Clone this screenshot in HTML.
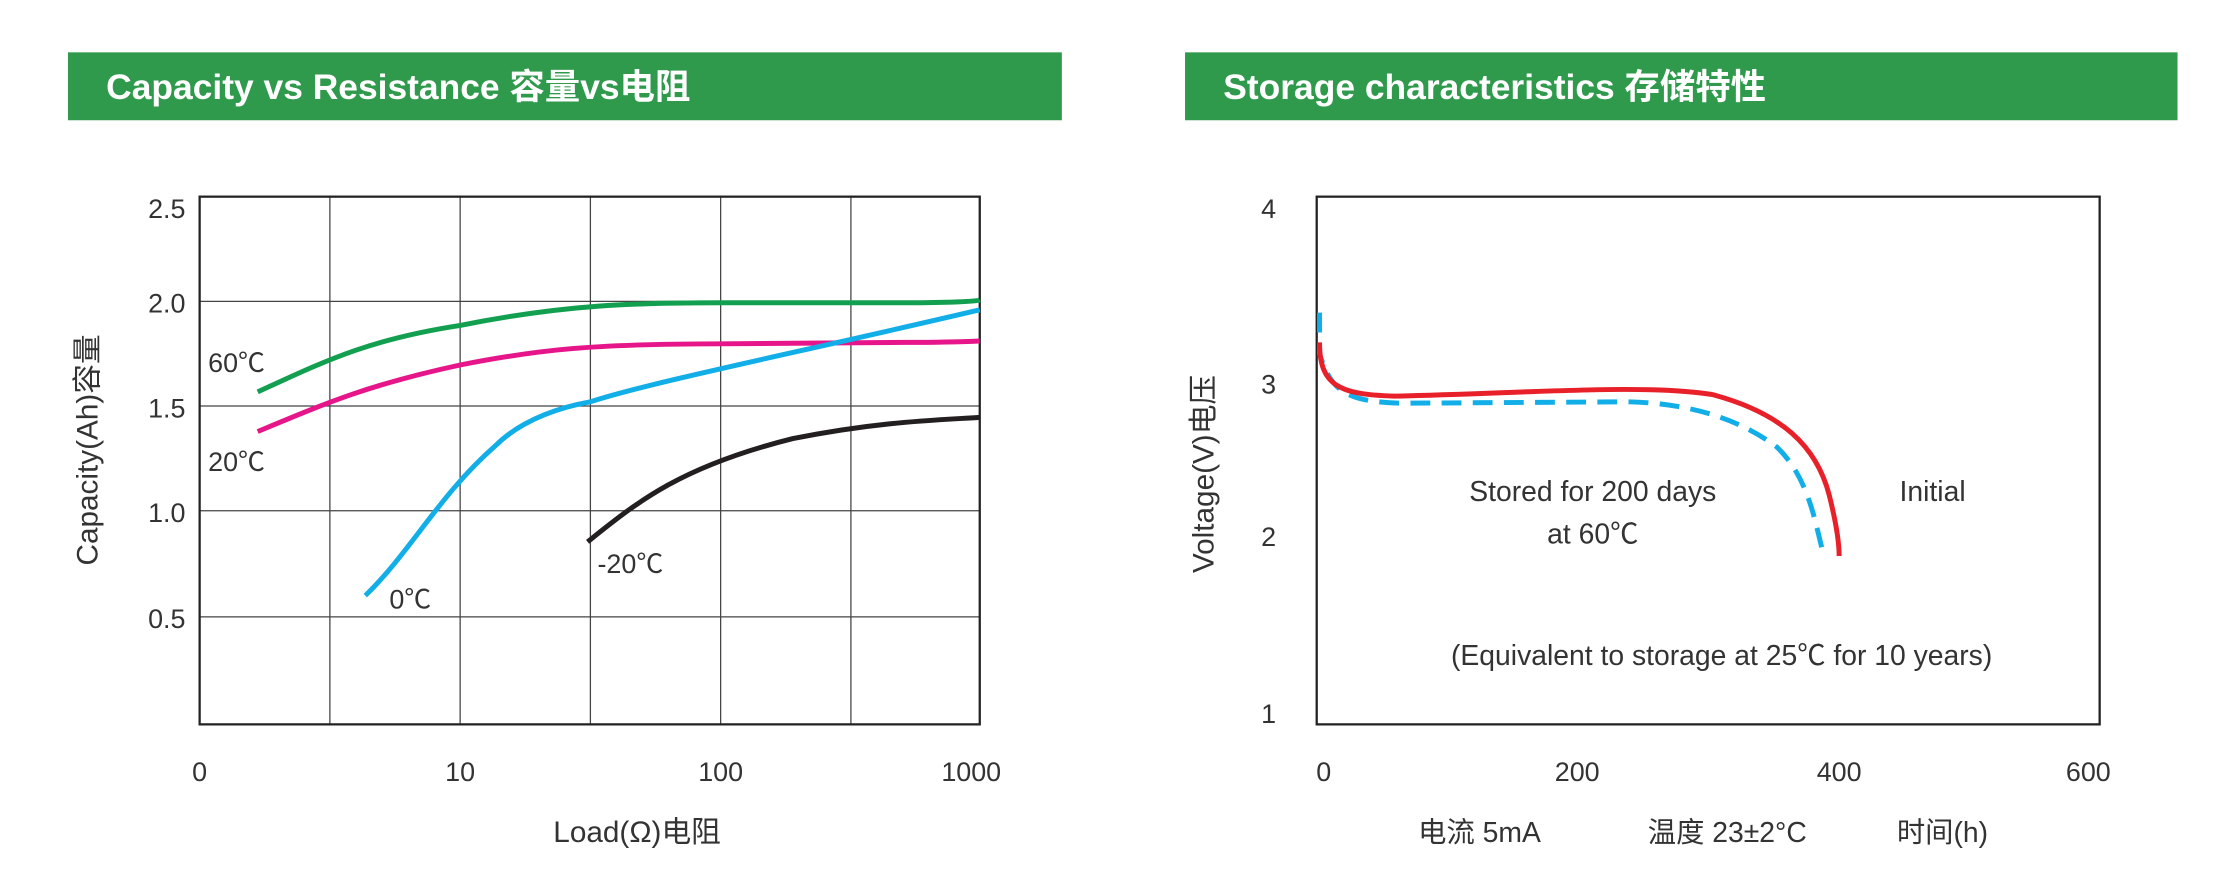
<!DOCTYPE html>
<html><head><meta charset="utf-8"><style>
html,body{margin:0;padding:0;background:#fff;}
svg{display:block;}
text{font-family:"Liberation Sans","Noto Sans CJK SC",sans-serif;fill:#333;}
</style></head><body>
<svg width="2220" height="880" viewBox="0 0 1568 622" preserveAspectRatio="none" xmlns="http://www.w3.org/2000/svg">
<!-- Left panel -->
<rect x="48" y="37" width="702" height="48" fill="#2f9a4c"/>
<text x="75" y="70" font-size="25" font-weight="bold" style="fill:#fff">Capacity vs Resistance  容量vs电阻</text>
<g stroke="#444" stroke-width="0.9" fill="none">
<line x1="233" y1="139" x2="233" y2="512"/><line x1="325" y1="139" x2="325" y2="512"/>
<line x1="417" y1="139" x2="417" y2="512"/><line x1="509" y1="139" x2="509" y2="512"/>
<line x1="601" y1="139" x2="601" y2="512"/>
<line x1="141" y1="213" x2="692" y2="213"/><line x1="141" y1="287" x2="692" y2="287"/>
<line x1="141" y1="361" x2="692" y2="361"/><line x1="141" y1="436" x2="692" y2="436"/>
</g>
<rect x="141" y="139" width="551" height="373" fill="none" stroke="#222" stroke-width="1.6"/>
<g font-size="19" text-anchor="end">
<text x="131" y="154">2.5</text><text x="131" y="221">2.0</text><text x="131" y="295">1.5</text>
<text x="131" y="369">1.0</text><text x="131" y="444">0.5</text>
</g>
<g font-size="19" text-anchor="middle">
<text x="141" y="552">0</text><text x="325" y="552">10</text><text x="509" y="552">100</text><text x="686" y="552">1000</text>
<text x="450" y="595" font-size="21">Load(Ω)电阻</text>
</g>
<text transform="translate(69,318) rotate(-90)" font-size="21" text-anchor="middle">Capacity(Ah)容量</text>
<g fill="none" stroke-width="3.5">
<path d="M182,277 C230,255 260,240 325,230 C400,215 450,214 509,214 L640,214 C670,214 690,213 692,212" stroke="#12a050"/>
<path d="M182,305 C230,285 260,272 325,258 C380,247 420,243 509,243 L640,242 C670,242 692,241 692,241" stroke="#e6168a"/>
<path d="M258,421 C290,390 310,350 350,315 C370,295 400,287 417,284 C460,270 560,250 692,219" stroke="#12aee8"/>
<path d="M415,383 C450,355 480,330 560,310 C620,298 660,297 692,295" stroke="#231f20"/>
</g>
<g font-size="19">
<text x="147" y="263">60℃</text><text x="147" y="333">20℃</text>
<text x="275" y="430">0℃</text><text x="422" y="405">-20℃</text>
</g>
<!-- Right panel -->
<rect x="837" y="37" width="701" height="48" fill="#2f9a4c"/>
<text x="864" y="70" font-size="25" font-weight="bold" style="fill:#fff">Storage characteristics  存储特性</text>
<rect x="930" y="139" width="553" height="373" fill="none" stroke="#222" stroke-width="1.6"/>
<g font-size="19" text-anchor="middle">
<text x="896" y="154">4</text><text x="896" y="278">3</text><text x="896" y="386">2</text><text x="896" y="511">1</text>
<text x="935" y="552">0</text><text x="1114" y="552">200</text><text x="1299" y="552">400</text><text x="1475" y="552">600</text>
</g>
<text transform="translate(857,335) rotate(-90)" font-size="21" text-anchor="middle">Voltage(V)电压</text>
<g font-size="20" text-anchor="middle">
<text x="1045" y="595">电流 5mA</text><text x="1220" y="595">温度 23±2°C</text><text x="1372" y="595">时间(h)</text>
<text x="1125" y="354">Stored for 200 days</text><text x="1125" y="384">at 60℃</text>
<text x="1365" y="354">Initial</text>
<text x="1216" y="470">(Equivalent to storage at 25℃ for 10 years)</text>
</g>
<path d="M932,221 L932,250 C940,276 950,284 990,285 L1150,284 C1195,285 1230,297 1255,316 C1278,338 1282,370 1288,392" fill="none" stroke="#12aee8" stroke-width="3.5" stroke-dasharray="14,8"/>
<path d="M932,242 C932,272 945,279 985,280 C1080,278 1160,271 1210,279 C1258,292 1283,315 1292,350 C1297,370 1299,385 1299,393" fill="none" stroke="#e8202a" stroke-width="3.5"/>
</svg>
</body></html>
